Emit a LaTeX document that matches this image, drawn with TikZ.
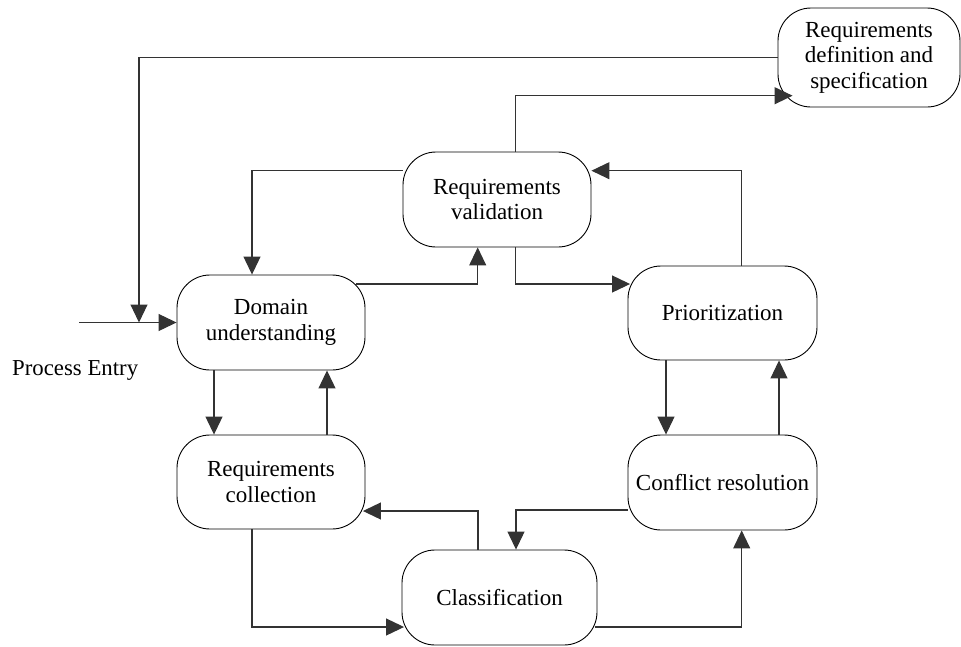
\documentclass[tikz,border=0pt]{standalone}
\usepackage{fontspec}
\setmainfont{Liberation Serif}
\usetikzlibrary{arrows.meta}
\begin{document}
\begin{tikzpicture}[x=1pt,y=-1pt,
  box/.style={draw=black,line width=0.9pt,rounded corners=33pt,align=center,inner sep=0pt,
    font=\fontsize{23}{25.5}\selectfont},
  arr/.style={draw=black!80,line width=1.1pt,-{Triangle[length=18pt,width=17pt]}},
  lbl/.style={font=\fontsize{22.8}{25.5}\selectfont,inner sep=0pt}]
\useasboundingbox (0,0) rectangle (961,646);
\node[box,minimum width=182pt,minimum height=99pt] (rd) at (869,57.5) {Requirements\\definition and\\specification};
\node[box,minimum width=188pt,minimum height=95pt] (val) at (497,199.5) {Requirements\\validation};
\node[box,minimum width=188pt,minimum height=95pt] (dom) at (271,322.5) {Domain\\understanding};
\node[box,minimum width=189pt,minimum height=94pt] (pri) at (722.5,313) {Prioritization};
\node[box,minimum width=188pt,minimum height=94pt] (col) at (271,482) {Requirements\\collection};
\node[box,minimum width=189pt,minimum height=95pt] (con) at (722.5,482.5) {Conflict resolution};
\node[box,minimum width=195pt,minimum height=95pt] (cls) at (499.5,597.5) {Classification};
\node[lbl,anchor=base west] (pel) at (12,375) {Process Entry};
\coordinate (pe) at (79,322.5);
\coordinate (jn) at (139,322.5);
% connectors
\draw[arr] (pe) -- (dom.west);
\draw[arr] (rd.west) -| (jn);
\draw[arr] ([xshift=18.7pt]val.north) |- ([xshift=15pt,yshift=-38.2pt]rd.west);
\draw[arr] ([yshift=28.8pt]val.west) -| ([xshift=-19pt]dom.north);
\draw[arr] ([xshift=-9pt,yshift=38.5pt]dom.east) -| ([xshift=-19.3pt]val.south);
\draw[arr] ([xshift=18.7pt]val.south) |- ([xshift=2.5pt,yshift=29pt]pri.west);
\draw[arr] ([xshift=19.2pt]pri.north) |- ([yshift=28.8pt]val.east);
\draw[arr] ([xshift=-56.5pt]pri.south) -- ([xshift=-56.5pt]con.north);
\draw[arr] ([xshift=56.5pt]con.north) -- ([xshift=56.5pt]pri.south);
\draw[arr] ([xshift=-57pt]dom.south) -- ([xshift=-57pt]col.north);
\draw[arr] ([xshift=56pt]col.north) -- ([xshift=56pt]dom.south);
\draw[arr] ([xshift=-21.5pt]cls.north) |- ([xshift=-2.5pt,yshift=-29pt]col.east);
\draw[arr] ([yshift=-27.5pt]con.west) -| ([xshift=16.5pt]cls.north);
\draw[arr] ([xshift=-19pt]col.south) |- ([xshift=2.5pt,yshift=-29.5pt]cls.west);
\draw[arr] ([xshift=-2.5pt,yshift=-29.5pt]cls.east) -| ([xshift=19.2pt]con.south);
\end{tikzpicture}
\end{document}
